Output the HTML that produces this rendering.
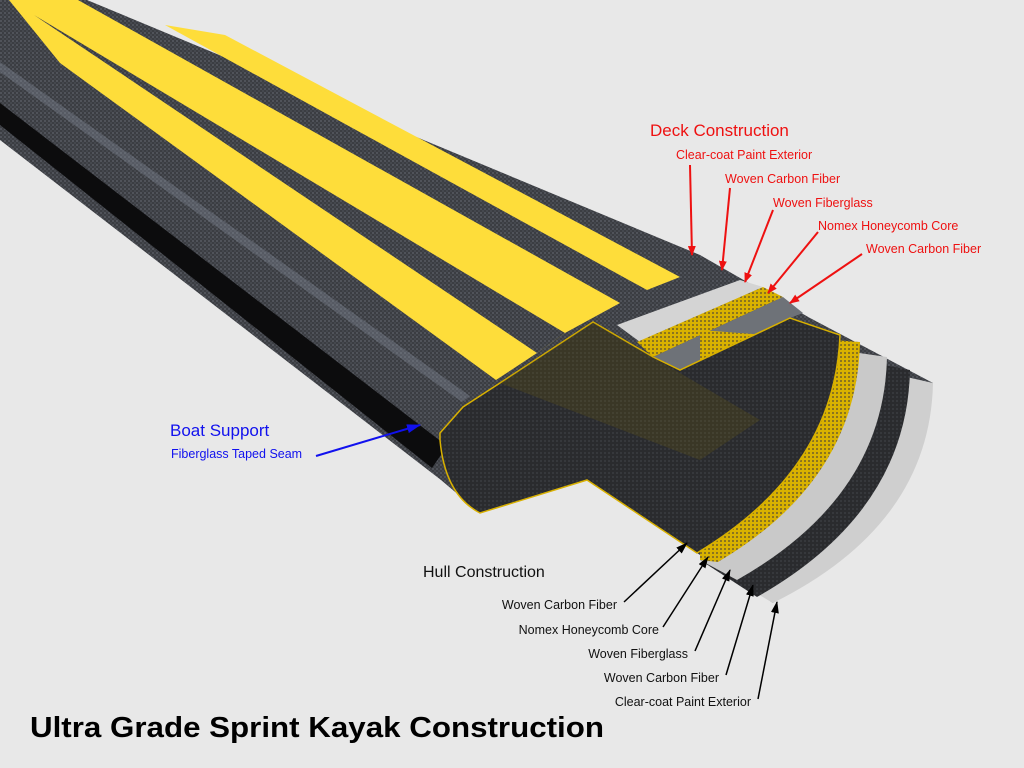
<!DOCTYPE html>
<html><head><meta charset="utf-8"><style>
html,body{margin:0;padding:0;background:#e8e8e8;}
svg{display:block}
text{font-family:"Liberation Sans",sans-serif}
</style></head><body>
<svg width="1024" height="768" viewBox="0 0 1024 768" xmlns="http://www.w3.org/2000/svg">
<defs>
<pattern id="cf" width="4" height="4" patternUnits="userSpaceOnUse">
<rect width="4" height="4" fill="#3b3d42"/><rect width="2" height="2" fill="#50535a"/><rect x="2" y="2" width="2" height="2" fill="#45484e"/>
</pattern>
<pattern id="cfd" width="4" height="4" patternUnits="userSpaceOnUse">
<rect width="4" height="4" fill="#2a2b2e"/><rect width="2" height="2" fill="#36383c"/>
</pattern>
<pattern id="hc" width="4" height="4" patternUnits="userSpaceOnUse">
<rect width="4" height="4" fill="#d9b200"/><rect width="2" height="2" fill="#8a7420"/>
</pattern>
<marker id="ar" markerWidth="10" markerHeight="8" refX="9" refY="4" orient="auto" markerUnits="userSpaceOnUse"><path d="M0,0 L10,4 L0,8z" fill="#ee1111"/></marker>
<marker id="ab" markerWidth="12" markerHeight="8" refX="11" refY="4" orient="auto" markerUnits="userSpaceOnUse"><path d="M0,0 L12,4 L0,8z" fill="#000"/></marker>
<marker id="au" markerWidth="14" markerHeight="9" refX="13" refY="4.5" orient="auto" markerUnits="userSpaceOnUse"><path d="M0,0 L14,4.5 L0,9z" fill="#1111ee"/></marker>
</defs>
<rect width="1024" height="768" fill="#e8e8e8"/>
<!-- hull -->
<polygon points="0,0 87,0 700,255 810,318 933,383 773,603 697,553 587,480 480,513 441,480 0,140" fill="url(#cf)"/>
<polygon points="0,103 0,125 432,468 447,446" fill="#0c0c0d"/>
<polygon points="0,62 0,72 462,402 470,396" fill="#8a93a0" opacity="0.35"/>
<!-- stripes -->
<polygon points="9,0 78,0 620,303 565,333 537,353 496,380 60,63" fill="#fedd3a"/>
<polygon points="34,15 565,333 537,353" fill="url(#cf)"/>
<polygon points="165,25 225,35 680,277 647,290" fill="#fedd3a"/>
<!-- deck layers -->
<polygon points="617,325 740,280 763,287 640,342" fill="#d4d4d4"/>
<polygon points="637,342 763,287 783,297 653,357" fill="url(#hc)"/>
<polygon points="653,357 783,297 803,313 790,318 680,370" fill="#6e7278"/>
<!-- hull layers -->
<path d="M700,330 L933,383 Q930,525 773,603 L700,560Z" fill="#cfcfcf"/>
<path d="M700,330 L910,370 Q907,512 757,597 L700,560Z" fill="url(#cfd)"/>
<path d="M700,330 L887,357 Q884,497 737,580 L700,560Z" fill="#c9c9c9"/>
<path d="M700,330 L860,342 Q857,480 718,562 L700,560Z" fill="url(#hc)"/>
<!-- inner sheet -->
<path d="M440,433 L463,407 L500,383 L593,322 L653,357 L680,370 L790,318 L840,335 Q835,470 697,553 L587,480 L480,513 Q445,495 440,440Z" fill="url(#cfd)" stroke="#d8b000" stroke-width="1.5"/>
<polygon points="500,383 593,322 760,420 700,460" fill="#6a5a10" opacity="0.25"/>
<!-- red labels -->
<text x="650" y="136" font-size="17" fill="#ee1111">Deck Construction</text>
<text x="676" y="159" font-size="12.5" fill="#ee1111">Clear-coat Paint Exterior</text>
<text x="725" y="183" font-size="12.5" fill="#ee1111">Woven Carbon Fiber</text>
<text x="773" y="207" font-size="12.5" fill="#ee1111">Woven Fiberglass</text>
<text x="818" y="230" font-size="12.5" fill="#ee1111">Nomex Honeycomb Core</text>
<text x="866" y="253" font-size="12.5" fill="#ee1111">Woven Carbon Fiber</text>
<g stroke="#ee1111" stroke-width="2" marker-end="url(#ar)">
<line x1="690" y1="165" x2="692" y2="255"/>
<line x1="730" y1="188" x2="722" y2="270"/>
<line x1="773" y1="210" x2="745" y2="282"/>
<line x1="818" y1="232" x2="768" y2="293"/>
<line x1="862" y1="254" x2="790" y2="303"/>
</g>
<!-- blue -->
<text x="170" y="436" font-size="17" fill="#1111ee">Boat Support</text>
<text x="171" y="458" font-size="12.5" fill="#1111ee">Fiberglass Taped Seam</text>
<line x1="316" y1="456" x2="420" y2="425" stroke="#1111ee" stroke-width="2" marker-end="url(#au)"/>
<!-- hull labels -->
<text x="423" y="577" font-size="16" fill="#111">Hull Construction</text>
<g font-size="12.5" fill="#111" text-anchor="end">
<text x="617" y="609">Woven Carbon Fiber</text>
<text x="659" y="634">Nomex Honeycomb Core</text>
<text x="688" y="658">Woven Fiberglass</text>
<text x="719" y="682">Woven Carbon Fiber</text>
<text x="751" y="706">Clear-coat Paint Exterior</text>
</g>
<g stroke="#000" stroke-width="1.5" marker-end="url(#ab)">
<line x1="624" y1="602" x2="687" y2="543"/>
<line x1="663" y1="627" x2="708" y2="557"/>
<line x1="695" y1="651" x2="730" y2="570"/>
<line x1="726" y1="675" x2="753" y2="585"/>
<line x1="758" y1="699" x2="777" y2="602"/>
</g>
<text x="30" y="737" font-size="29" font-weight="bold" fill="#000" textLength="574" lengthAdjust="spacingAndGlyphs">Ultra Grade Sprint Kayak Construction</text>
</svg>
</body></html>
